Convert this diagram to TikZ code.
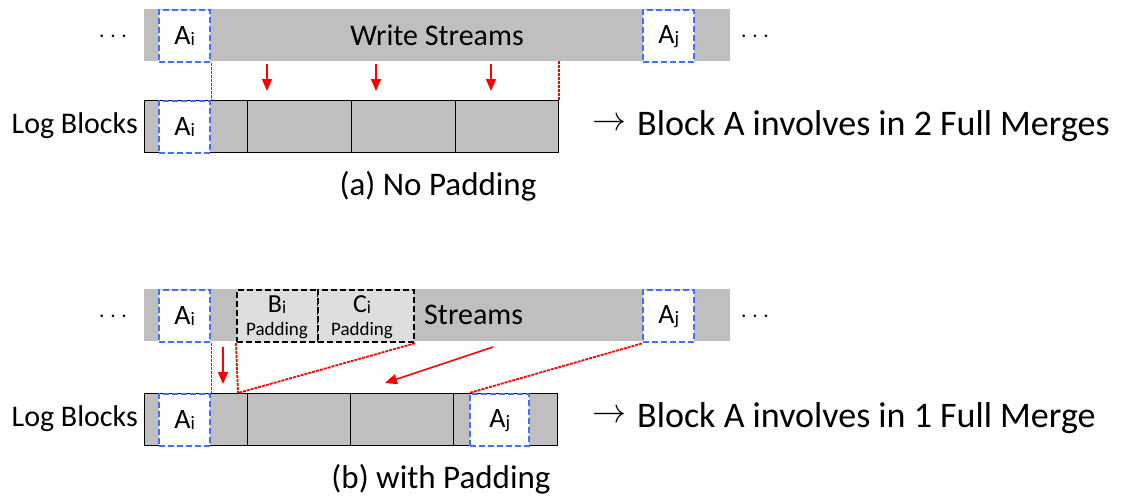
\documentclass[tikz,border=0pt]{standalone}
\usepackage{fontspec}
\usepackage{graphicx}
\setmainfont{Carlito}
\usetikzlibrary{arrows.meta}
\definecolor{barg}{RGB}{191,191,191}
\definecolor{padg}{RGB}{222,222,222}
\definecolor{ablue}{RGB}{64,112,255}
\definecolor{lred}{RGB}{255,0,0}
% small lowered index letter, as in A_i
\newcommand\idx[2]{{\fontsize{#1}{#1}\selectfont\raisebox{-1pt}{#2}}}
% thin arrow in front of the result lines
\newcommand\resarrow{\raisebox{0.14em}{\resizebox{34pt}{!}{$\rightarrow$}}\hspace{11pt}}
\begin{document}
\begin{tikzpicture}[x=1pt,y=-1pt,
  sbar/.style={fill=barg,draw=none,inner sep=0,anchor=north west,minimum height=52},
  cell/.style={fill=barg,draw=black,line width=1.3pt,inner sep=0,anchor=north west,minimum height=52},
  ablk/.style={fill=white,draw=ablue,line width=2.4pt,dash pattern=on 6pt off 3pt,inner sep=0,
    anchor=north west,minimum width=51,minimum height=52,font=\fontsize{28}{28}\selectfont},
  pblk/.style={fill=padg,draw=black,line width=2.2pt,dash pattern=on 6pt off 3pt,inner sep=0,
    anchor=north west,minimum width=81,minimum height=52},
  lbl/.style={inner sep=0,font=\fontsize{30}{30}\selectfont},
  res/.style={inner sep=0,anchor=west,font=\fontsize{36}{36}\selectfont},
  captext/.style={inner sep=0,font=\fontsize{33}{33}\selectfont},
  redlink/.style={draw=lred,line width=1.8pt,dash pattern=on 3pt off 1pt},
  redarr/.style={draw=lred,line width=1.6pt,-{Triangle[length=12pt,width=10pt]}}
]
\useasboundingbox (0,0) rectangle (1124,499);

% ---------------- (a) No Padding ----------------
\node[sbar,minimum width=586] (sa) at (144,9) {};
\node[lbl] (wsa) at (437,35) {Write Streams};
\node[lbl] (dla) at (113,37) {$\cdots$};
\node[lbl] (dra) at (755,37) {$\cdots$};
\node[ablk] (sai) at (158,9) {A\idx{19}{i}};
\node[ablk] (saj) at (642,9) {A\idx{19}{j}};

\node[lbl,anchor=east] (lba) at (138,126) {Log Blocks};
\node[cell,minimum width=103] (a0) at (144,100) {};
\node[cell,minimum width=104] (a1) at (247,100) {};
\node[cell,minimum width=104] (a2) at (351,100) {};
\node[cell,minimum width=103] (a3) at (455,100) {};
\node[ablk] (lai) at (158,100) {A\idx{19}{i}};

\draw[redlink] (sai.south east) -- (lai.north east);
\draw[redlink] (a3.north east |- sa.south) -- (a3.north east);
\coordinate (ta1) at (267,64); \coordinate (ha1) at (267,91);
\coordinate (ta2) at (376,64); \coordinate (ha2) at (376,91);
\coordinate (ta3) at (491,64); \coordinate (ha3) at (491,91);
\draw[redarr] (ta1) -- (ha1);
\draw[redarr] (ta2) -- (ha2);
\draw[redarr] (ta3) -- (ha3);

\node[res] (ra) at (592,126) {\resarrow Block A involves in 2 Full Merges};
\node[captext] (ca) at (438,186) {(a) No Padding};

% ---------------- (b) with Padding ----------------
\node[sbar,minimum width=586] (sb) at (144,289) {};
\node[lbl,anchor=west] (wsb) at (424,315) {Streams};
\node[lbl] (dlb) at (113,317) {$\cdots$};
\node[lbl] (drb) at (755,317) {$\cdots$};
\node[ablk] (sbi) at (158,289) {A\idx{19}{i}};
\node[ablk] (sbj) at (642,289) {A\idx{19}{j}};
\node[pblk] (pb) at (236,289) {};
\node[pblk,minimum width=96] (pc) at (317,289) {};
\node[inner sep=0,font=\fontsize{26}{26}\selectfont] (pbt) at (277,305) {B\idx{18}{i}};
\node[inner sep=0,font=\fontsize{19}{19}\selectfont] (pbp) at (277,331) {Padding};
\node[inner sep=0,font=\fontsize{26}{26}\selectfont] (pct) at (362,305) {C\idx{18}{i}};
\node[inner sep=0,font=\fontsize{19}{19}\selectfont] (pcp) at (362,331) {Padding};

\node[lbl,anchor=east] (lbb) at (138,419) {Log Blocks};
\node[cell,minimum width=103] (b0) at (144,393) {};
\node[cell,minimum width=103] (b1) at (247,393) {};
\node[cell,minimum width=103] (b2) at (350,393) {};
\node[cell,minimum width=104] (b3) at (453,393) {};
\node[ablk] (lbi) at (158,393) {A\idx{19}{i}};
\node[ablk,minimum width=59] (lbj) at (469,393) {A\idx{19}{j}};

\coordinate (bb) at (238,393);
\draw[redlink] (sbi.south east) -- (lbi.north east);
\draw[redlink] (pb.south west) -- (bb);
\draw[redlink] (pc.south east) -- (bb);
\draw[redlink] (sbj.south west) -- (lbj.north west);
\coordinate (tb1) at (223,347); \coordinate (hb1) at (223,384);
\coordinate (tb2) at (493,347); \coordinate (hb2) at (385,383);
\draw[redarr] (tb1) -- (hb1);
\draw[redarr] (tb2) -- (hb2);

\node[res] (rb) at (592,418) {\resarrow Block A involves in 1 Full Merge};
\node[captext] (cb) at (441,479) {(b) with Padding};
\end{tikzpicture}
\end{document}
